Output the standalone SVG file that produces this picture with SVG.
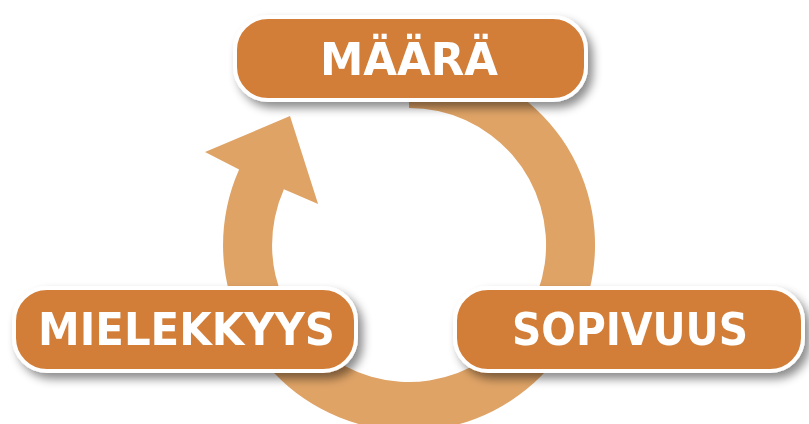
<svg xmlns="http://www.w3.org/2000/svg" width="809" height="424" viewBox="0 0 809 424">
  <defs>
    <filter id="shadow" x="-10%" y="-30%" width="125%" height="170%">
      <feDropShadow dx="5" dy="6" stdDeviation="5" flood-color="#000" flood-opacity="0.45"/>
    </filter>
  </defs>
  <style>
    .box { fill: #D27E38; stroke: #FFFFFF; stroke-width: 4; }
    .label { fill: #FFFFFF; font-family: "DejaVu Sans", "Liberation Sans", sans-serif; font-weight: bold; font-size: 44px; text-anchor: middle; }
    .ring { fill: #DFA366; }
  </style>
  <rect width="809" height="424" fill="#FFFFFF"/>
  <g id="connectors">
    <path class="ring" d="M 409 59 A 186 186 0 1 1 239.1 169.4 L 205 152 L 290 116 L 318.1 204 L 283.9 189.3 A 137 137 0 1 0 409 108 Z"/>
  </g>
  <g id="node-maara" filter="url(#shadow)">
    <rect class="box" x="235" y="17" width="351" height="83" rx="33" ry="33"/>
    <text class="label" x="409" y="75" textLength="178" lengthAdjust="spacingAndGlyphs">MÄÄRÄ</text>
  </g>
  <g id="node-mielekkyys" filter="url(#shadow)">
    <rect class="box" x="14" y="288" width="342" height="83" rx="33" ry="33"/>
    <text class="label" x="186.5" y="345" textLength="297" lengthAdjust="spacingAndGlyphs">MIELEKKYYS</text>
  </g>
  <g id="node-sopivuus" filter="url(#shadow)">
    <rect class="box" x="455" y="288" width="348" height="83" rx="33" ry="33"/>
    <text class="label" x="630" y="345" textLength="236" lengthAdjust="spacingAndGlyphs">SOPIVUUS</text>
  </g>
</svg>
